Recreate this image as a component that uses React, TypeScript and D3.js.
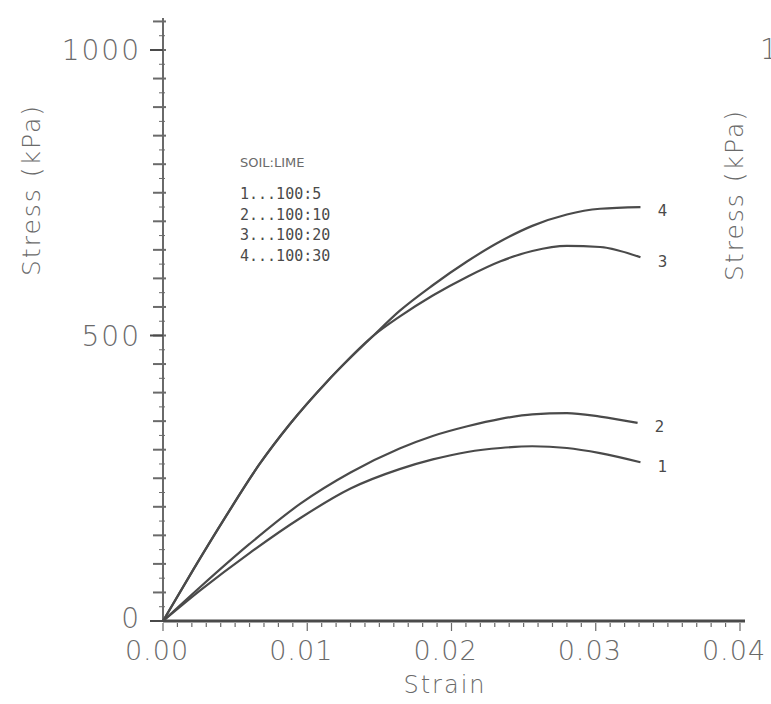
import React from 'react';
import * as d3 from 'd3';

const width = 771;
const height = 704;

// strain (-) and stress (kPa), one pair of arrays per mix
const strain1 = [0, 0.0026, 0.006, 0.0095, 0.013, 0.0164, 0.0187, 0.0211, 0.0234, 0.0256, 0.028, 0.0303, 0.0331];
const stress1 = [0, 54, 119, 180, 232, 266, 283, 296, 303, 306, 303, 294, 278];

const strain2 = [0, 0.0026, 0.006, 0.0095, 0.013, 0.0164, 0.0187, 0.0211, 0.0234, 0.0256, 0.028, 0.0303, 0.0329];
const stress2 = [0, 60, 135, 205, 260, 302, 324, 341, 354, 362, 364, 358, 347];

const strain3 = [0, 0.0021, 0.0044, 0.0067, 0.0088, 0.0114, 0.0146, 0.0164, 0.0187, 0.0211, 0.0234, 0.0256, 0.028, 0.0303, 0.0331];
const stress3 = [0, 90, 185, 275, 345, 420, 500, 533, 570, 603, 630, 648, 657, 655, 637];

const strain4 = [0, 0.0021, 0.0044, 0.0067, 0.0088, 0.0114, 0.0146, 0.0164, 0.0187, 0.0211, 0.0234, 0.0256, 0.028, 0.0303, 0.0331];
const stress4 = [0, 90, 185, 275, 345, 420, 500, 543, 588, 630, 665, 692, 712, 722, 725];

const seriesNames = ['1', '2', '3', '4'];
const legendTitle = 'SOIL:LIME';
const legendRows = ['1...100:5', '2...100:10', '3...100:20', '4...100:30'];

const xTicks = [0, 0.01, 0.02, 0.03, 0.04];
const yTicks = [0, 500, 1000];

const x = d3.scaleLinear().domain([0, 0.04]).range([163, 740]);
const y = d3.scaleLinear().domain([0, 1000]).range([621, 50]);

const ink = '#4a4a4a';
const pale = '#6a6a6a';

export default function App() {
  const series = [
    strain1.map((s, i) => [s, stress1[i]]),
    strain2.map((s, i) => [s, stress2[i]]),
    strain3.map((s, i) => [s, stress3[i]]),
    strain4.map((s, i) => [s, stress4[i]]),
  ];

  const line = d3
    .line<number[]>()
    .x(d => x(d[0]))
    .y(d => y(d[1]))
    .curve(d3.curveMonotoneX);

  const yMinor = d3.range(0, 1051, 25);
  const xMinor = d3.range(0, 0.0401, 0.001);

  return (
    <svg width={width} height={height} style={{ position: 'absolute', left: 0, top: 0, background: '#fff' }}>
      <rect width={width} height={height} fill="#fff" />

      {/* y axis */}
      <line x1={x(0)} x2={x(0)} y1={18} y2={y(0)} stroke={pale} strokeWidth={2} />
      {yMinor.map((v, i) => {
        const major = v % 50 === 0;
        return (
          <line
            key={'ym' + i}
            x1={x(0) - (major ? 10 : 4)}
            x2={x(0) + (major ? 3 : 2)}
            y1={y(v)}
            y2={y(v)}
            stroke={pale}
            strokeWidth={major ? 2 : 1}
          />
        );
      })}
      {yTicks.map(v => (
        <g key={'yt' + v}>
          <line x1={x(0) - 13} x2={x(0)} y1={y(v)} y2={y(v)} stroke={ink} strokeWidth={2} />
          <text
            x={x(0) - 22}
            y={y(v) - (v === 0 ? 3 : 0)}
            dy="0.36em"
            textAnchor="end"
            fontFamily="DejaVu Sans"
            fontWeight={300}
            fontSize={28}
            letterSpacing={2}
            fill={pale}
          >
            {v}
          </text>
        </g>
      ))}

      {/* x axis */}
      <line x1={x(0)} x2={745} y1={y(0)} y2={y(0)} stroke={ink} strokeWidth={3} />
      {xMinor.map((v, i) => (
        <line key={'xm' + i} x1={x(v)} x2={x(v)} y1={y(0) + 2} y2={y(0) + (i % 10 === 0 ? 10 : 6)} stroke={pale} strokeWidth={1.2} />
      ))}
      {xTicks.map(v => (
        <text
          key={'xt' + v}
          x={x(v) - 6}
          y={y(0) + 39}
          textAnchor="middle"
          fontFamily="DejaVu Sans"
          fontWeight={300}
          fontSize={27}
          letterSpacing={1}
          fill={pale}
        >
          {v.toFixed(2)}
        </text>
      ))}
      <text x={445} y={693} textAnchor="middle" fontFamily="DejaVu Sans" fontWeight={300} fontSize={24} letterSpacing={2} fill={pale}>
        Strain
      </text>

      {/* y axis title */}
      <text
        transform="translate(40,190) rotate(-90)"
        textAnchor="middle"
        fontFamily="DejaVu Sans"
        fontWeight={300}
        fontSize={25}
        letterSpacing={2}
        fill={pale}
      >
        Stress  (kPa)
      </text>

      {/* edge of the neighbouring panel */}
      <text
        transform="translate(743,195) rotate(-90)"
        textAnchor="middle"
        fontFamily="DejaVu Sans"
        fontWeight={300}
        fontSize={25}
        letterSpacing={2}
        fill={pale}
      >
        Stress  (kPa)
      </text>
      <text x={760} y={59} fontFamily="DejaVu Sans" fontWeight={300} fontSize={28} fill={pale}>
        1000
      </text>

      {/* curves */}
      {series.map((pts, i) => (
        <path key={'c' + i} d={line(pts) || ''} fill="none" stroke={ink} strokeWidth={2.2} />
      ))}
      {series.map((pts, i) => {
        const last = pts[pts.length - 1];
        return (
          <text
            key={'n' + i}
            x={x(last[0]) + 22}
            y={y(last[1]) + 4}
            dy="0.35em"
            textAnchor="middle"
            fontFamily="DejaVu Sans"
            fontSize={15}
            fill={ink}
          >
            {seriesNames[i]}
          </text>
        );
      })}

      {/* legend */}
      <text x={240} y={162} dy="0.35em" fontFamily="DejaVu Sans" fontSize={13} fill={pale}>
        {legendTitle}
      </text>
      {legendRows.map((r, i) => (
        <text key={'l' + i} x={240} y={194 + i * 20.5} dy="0.35em" fontFamily="DejaVu Sans Mono" fontSize={15} fill={ink}>
          {r}
        </text>
      ))}
    </svg>
  );
}
